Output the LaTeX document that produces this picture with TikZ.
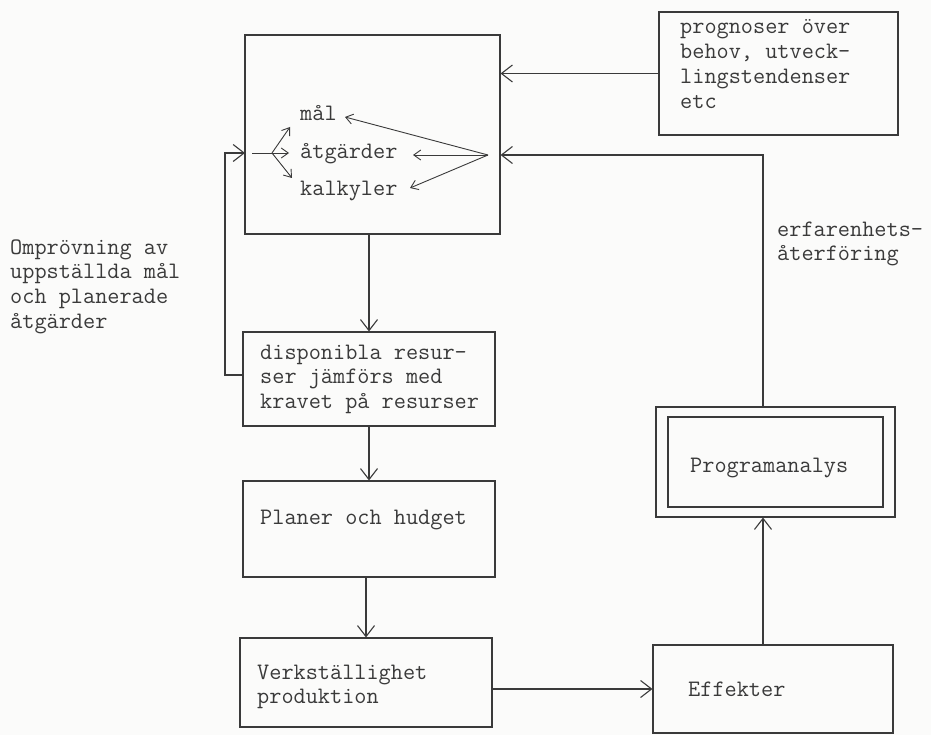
\documentclass[tikz,border=0pt]{standalone}
\usepackage{fontspec}
\usetikzlibrary{arrows.meta}
\definecolor{inkc}{HTML}{3A3A3A}
\definecolor{paper}{HTML}{FBFBFA}

\begin{document}
\begin{tikzpicture}[x=1pt,y=-1pt,
  line/.style={draw=inkc, line width=1.1pt},
  box/.style={line, rectangle, inner sep=0pt},
  arr/.style={line, -{Straight Barb[length=11pt,width=17pt]}},
  arrsmall/.style={line, line width=0.9pt, -{Straight Barb[length=7pt,width=10pt]}},
  % multi-line labels: the base anchor sits on the last line
  txt/.style={font={\fontsize{23.6}{24.8}\ttfamily}, text=inkc,
              inner sep=0pt, anchor=base west, align=left},
]
% page
\fill[paper] (0,0) rectangle (931,735);
\clip (0,0) rectangle (931,735);

% boxes
\node[box, minimum width=255pt, minimum height=199pt] (A) at (372.5,134.5) {};
\node[box, minimum width=252pt, minimum height=94pt]  (B) at (369,379) {};
\node[box, minimum width=252pt, minimum height=96pt]  (C) at (369,529) {};
\node[box, minimum width=252pt, minimum height=89pt]  (D) at (366,682.5) {};
\node[box, minimum width=240pt, minimum height=88pt]  (E) at (773,689) {};
\node[box, minimum width=239pt, minimum height=123pt] (P) at (778.5,73.5) {};
\node[box, minimum width=239pt, minimum height=110pt] (Q) at (775.5,462) {};
\node[box, minimum width=215pt, minimum height=90pt]  (Qi) at (775.5,462) {};

% texts (y = baseline of the last line)
\node[txt] (tP) at (680,108.4) {prognoser över\\behov, utveck-\\lingstendenser\\etc};
\node[txt] (mal) at (300,121) {mål};
\node[txt] (atg) at (300,159) {åtgärder};
\node[txt] (kal) at (300,196) {kalkyler};
\node[txt] (tO) at (10,328.4) {Omprövning av\\uppställda mål\\och planerade\\åtgärder};
\node[txt] (tF) at (777,260.8) {erfarenhets-\\återföring};
\node[txt] (tB) at (260,408.6) {disponibla resur-\\ser jämförs med\\kravet på resurser};
\node[txt] (tC) at (260,524) {Planer och hudget};
\node[txt] (tQ) at (690,472) {Programanalys};
\node[txt] (tD) at (257,703.8) {Verkställighet\\produktion};
\node[txt] (tE) at (688,696) {Effekter};

% helper points
\coordinate (row) at (0,155);
\coordinate (fbx) at (763,0);
\coordinate (lx) at (225,0);
\coordinate (bfb) at (0,375);
\coordinate (aL) at (245,153);
\coordinate (lin) at (252,153);
\coordinate (fanL) at (272,153);
\coordinate (fanR) at (488,155);
\coordinate (hMal) at (290,127);
\coordinate (hAtg) at (289,153);
\coordinate (hKal) at (292,178);
\coordinate (rMal) at (345,117);
\coordinate (rAtg) at (413,155);
\coordinate (rKal) at (410,188);

% main flow
\draw[arr] (B.north |- A.south) -- (B.north);
\draw[arr] (C.north |- B.south) -- (C.north);
\draw[arr] (D.north |- C.south) -- (D.north);
\draw[arr] (D.east |- E.west) -- (E.west);
\draw[arr] (fbx |- E.north) -- (fbx |- Q.south);
\draw[arr] (fbx |- Q.north) |- (A.east |- row);
\draw[arr] (P.west) -- (A.east |- P.west);

% review loop on the left
\draw[arr] (B.west |- bfb) -| (lx |- aL) -- (aL);

% fan of arrows inside the planning box
\draw[arrsmall] (lin) -- (hAtg);
\draw[arrsmall] (fanL) -- (hMal);
\draw[arrsmall] (fanL) -- (hKal);
\draw[arrsmall] (fanR) -- (rMal);
\draw[arrsmall] (fanR) -- (rAtg);
\draw[arrsmall] (fanR) -- (rKal);
\end{tikzpicture}
\end{document}
